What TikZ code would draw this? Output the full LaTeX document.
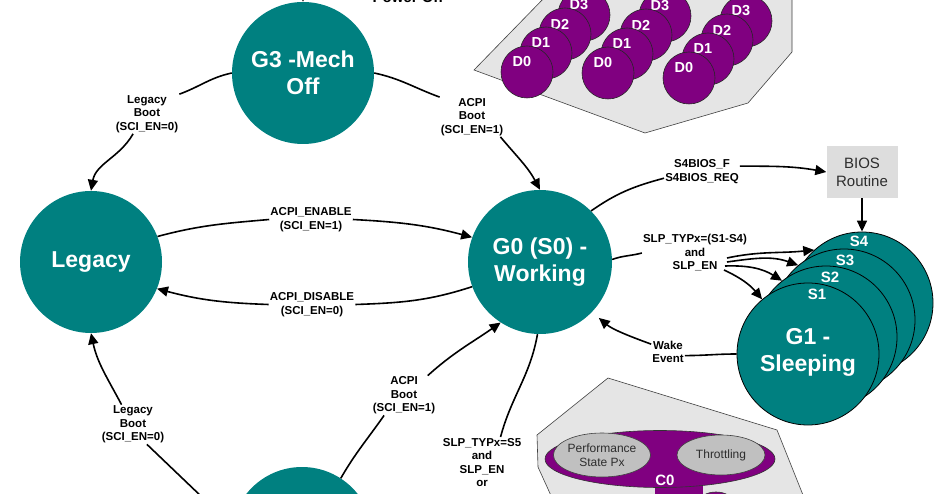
\documentclass[tikz,border=0pt]{standalone}
\usepackage{fontspec}
\setmainfont{Liberation Sans}
\usetikzlibrary{arrows.meta,shapes.geometric,calc}
\definecolor{tealc}{RGB}{0,128,128}
\definecolor{purp}{RGB}{128,0,128}
\definecolor{polyg}{RGB}{229,229,229}
\definecolor{innerg}{RGB}{192,192,192}
\definecolor{biosg}{RGB}{221,221,221}
\definecolor{darkt}{RGB}{45,45,45}
\begin{document}
\begin{tikzpicture}[x=1pt,y=1pt,
  state/.style={circle,fill=tealc,text=white,font=\fontsize{23}{27}\selectfont\bfseries,align=center,minimum size=142pt,inner sep=0pt},
  sstate/.style={state,draw=black,line width=0.8pt},
  dev/.style={circle,fill=purp,draw=black!85,line width=0.6pt,minimum size=52pt,inner sep=0pt},
  dlab/.style={text=white,font=\fontsize{14.5}{16}\selectfont\bfseries,inner sep=0pt},
  elab/.style={align=center,font=\fontsize{11.5}{13.5}\selectfont\bfseries,inner sep=1pt},
  conn/.style={line width=1.6pt},
  arr/.style={conn,-{Triangle[length=11pt,width=10pt]}},
  pen/.style={fill=polyg,draw=black!75,line width=0.6pt},
  inell/.style={ellipse,fill=innerg,draw=black!75,line width=0.6pt,inner sep=0pt,align=center,text=darkt,font=\fontsize{12}{14}\selectfont},
]
\useasboundingbox (0,0) rectangle (940,-494);
\clip (0,0) rectangle (940,-494);

% ---- device states panel
\draw[pen] (474,-70) -- (546,4) -- (792,4) -- (792,-52) -- (748,-103) -- (645,-133) -- cycle;
\foreach \k/\lx/\ly in {1/522/62,2/603/63,3/684/68}{
  \foreach \i in {3,2,1,0}{
    \node[dev] (d\k\i) at ({\lx+19*\i+5},{-(\ly-19*\i)-10}) {};
    \node[dlab] (dl\k\i) at ({\lx+19*\i},{-(\ly-19*\i)}) {D\i};
  }
}

% ---- C-state panel
\draw[pen] (553,-500) -- (538,-467) -- (537,-435) -- (608,-378) -- (777,-430) -- (805,-500) -- cycle;
\fill[purp] (655,-484) rectangle (703,-500);
\draw[fill=purp,draw=black!80,line width=0.6pt] (716,-501) ellipse [x radius=16,y radius=9];
\node[ellipse,fill=purp,draw=black!80,line width=0.6pt,minimum width=230pt,minimum height=57pt] (c0) at (660,-459) {};
\node[inell,minimum width=80pt,minimum height=44pt] (perf) at (602,-455) {Performance\\State Px};
\node[inell,minimum width=88pt,minimum height=40pt] (thr) at (721,-455) {Throttling};
\node[dlab,font=\fontsize{15}{17}\selectfont\bfseries] (c0l) at (665,-480) {C0};

% ---- main states
\node[state] (g3) at (303,-73) {G3 -Mech\\Off};
\node[state] (legacy) at (91,-262) {Legacy};
\node[state,minimum size=144pt] (g0) at (540,-262) {G0 (S0) -\\Working};
\node[state] (g2) at (302,-538) {};

% ---- sleeping stack
\node[sstate] (s4) at (862,-303) {};
\node[sstate] (s3) at (844,-320) {};
\node[sstate] (s2) at (826,-337) {};
\node[sstate] (s1) at (808,-354) {};
\node[text=white,font=\fontsize{23}{27}\selectfont\bfseries,align=center] (g1l) at (808,-352) {G1 -\\Sleeping};
\node[dlab,font=\fontsize{15}{17}\selectfont\bfseries] (sl4) at (859,-241) {S4};
\node[dlab,font=\fontsize{15}{17}\selectfont\bfseries] (sl3) at (845,-260) {S3};
\node[dlab,font=\fontsize{15}{17}\selectfont\bfseries] (sl2) at (830,-277) {S2};
\node[dlab,font=\fontsize{15}{17}\selectfont\bfseries] (sl1) at (817,-294) {S1};

\node[fill=biosg,minimum width=71pt,minimum height=52pt,inner sep=0pt,align=center,text=darkt,font=\fontsize{15}{18}\selectfont] (bios) at (862,-172) {BIOS\\Routine};

% ---- labels
\node[font=\fontsize{15}{18}\selectfont\bfseries,anchor=base] (pwr) at (408,-3) {Power Off};
\node[elab] (lg1) at (147,-114) {Legacy\\Boot\\(SCI\_EN=0)};
\node[elab] (ab1) at (472,-117) {ACPI\\Boot\\(SCI\_EN=1)};
\node[elab] (en) at (311,-219.5) {ACPI\_ENABLE\\(SCI\_EN=1)};
\node[elab] (dis) at (312,-304.5) {ACPI\_DISABLE\\(SCI\_EN=0)};
\node[elab] (s4b) at (702,-171.5) {S4BIOS\_F\\S4BIOS\_REQ};
\node[elab] (slp) at (695,-253) {SLP\_TYPx=(S1-S4)\\and\\SLP\_EN};
\node[elab] (wake) at (668,-352) {Wake\\Event};
\node[elab] (lg2) at (133,-424.5) {Legacy\\Boot\\(SCI\_EN=0)};
\node[elab] (ab2) at (404,-395.5) {ACPI\\Boot\\(SCI\_EN=1)};
\node[elab,anchor=north] (s5) at (482,-437) {SLP\_TYPx=S5\\and\\SLP\_EN\\or};

% ---- connectors
\coordinate (pin) at (303,20);
\draw[arr] (pin) -- (g3.north);

\draw[conn] (g3.west) to[out=192,in=20] (lg1.north east);
\draw[arr] (lg1.-125) to[out=240,in=80] (legacy.north);

\draw[conn] (g3.east) to[out=-12,in=160] (ab1.north west);
\draw[arr] (ab1.-35) to[out=-50,in=118] (g0.north);

\draw[conn] (legacy.21) to[out=15,in=185] (en.west);
\draw[arr] (en.east) to[out=-3,in=165] (g0.160);

\draw[conn] (g0.200) to[out=198,in=2] (dis.east);
\draw[arr] (dis.west) to[out=178,in=-15] (legacy.-22);

\draw[conn] (g0.45) to[out=35,in=195] (s4b.190);
\draw[arr] (s4b.8) to[out=0,in=170] (bios.west);
\draw[arr] (bios.south) -- (s4.north);

\draw[conn] (g0.2) to[out=20,in=195] (slp.west);
\coordinate (o1) at (727,-258);
\coordinate (o2) at (727,-262);
\coordinate (o3) at (725,-266);
\coordinate (o4) at (724,-270);
\draw[arr] (o1) to[out=12,in=186] (s4.132);
\draw[arr] (o2) to[out=8,in=160] (s3.130);
\draw[arr] (o3) to[out=2,in=148] (s2.128);
\draw[arr] (o4) to[out=-25,in=130] (s1.130);

\draw[conn] (s1.180) to[out=180,in=0] (wake.-12);
\draw[arr,shorten >=9pt] (wake.155) to[out=160,in=-40] (g0.-44);

\draw[conn] (g2.170) -- (lg2.-55);
\draw[arr] (lg2.120) to[out=118,in=-78] (legacy.south);

\draw[conn] (g2.57) to[out=60,in=-125] (ab2.-135);
\draw[arr] (ab2.40) to[out=42,in=-145] (g0.237);

\draw[conn] (g0.268) to[out=-100,in=75] (s5.54);
\end{tikzpicture}
\end{document}
